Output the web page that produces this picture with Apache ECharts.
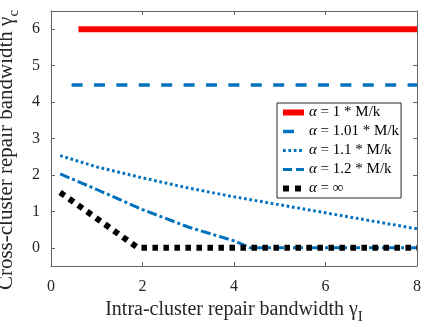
<!DOCTYPE html>
<html><head><meta charset="utf-8">
<script src="https://cdn.jsdelivr.net/npm/echarts@6/dist/echarts.min.js"></script>
<style>html,body{margin:0;padding:0;background:#fff}#c{width:429px;height:327px}</style>
</head><body><div id="c"></div>
<script>
const seriesNames = ['α = 1 * M/k', 'α = 1.01 * M/k', 'α = 1.1 * M/k', 'α = 1.2 * M/k', 'α = ∞'];
const xTickValues = [0, 2, 4, 6, 8];
const yTickValues = [0, 1, 2, 3, 4, 5, 6];
const xA1 = [0.6, 8];
const yA1 = [6, 6];
const xA101 = [0.45, 8];
const yA101 = [4.47, 4.47];
const xA11 = [0.2, 1, 2, 3, 4, 5, 6, 7, 8];
const yA11 = [2.53, 2.22, 1.92, 1.64, 1.40, 1.18, 0.96, 0.74, 0.52];
const xA12 = [0.2, 1, 2, 3, 4, 4.35, 5, 6, 7, 8];
const yA12 = [2.03, 1.6, 1.05, 0.57, 0.19, 0, 0, 0, 0, 0];
const xInf = [0.2, 1.9, 3, 4, 5, 6, 7, 8];
const yInf = [1.52, 0, 0, 0, 0, 0, 0, 0];

const pairs = (xs, ys) => xs.map((x, i) => [x, ys[i]]);
const FONT = 'Liberation Serif';
const AX = '#666';
const TXT = '#262626';

const styles = [
  {color: '#ff0000', width: 6, type: 'solid'},
  {color: '#0072bd', width: 3.5, type: [11, 11.4]},
  {color: '#0072bd', width: 3, type: [2.7, 2.7]},
  {color: '#0072bd', width: 3, type: [10, 3, 3, 3]},
  {color: '#000000', width: 6, type: [5.5, 5.5]}
];
const legendStyles = [
  {color: '#ff0000', width: 6, type: 'solid'},
  {color: '#0072bd', width: 3.5, type: [11, 11]},
  {color: '#0072bd', width: 3, type: [2.7, 2.7]},
  {color: '#0072bd', width: 3, type: [9, 4]},
  {color: '#000000', width: 6, type: [6, 6]}
];

const nameRich = (size, subSize, pad) => ({
  m: {fontFamily: FONT, fontSize: size, color: TXT, verticalAlign: 'top', lineHeight: size},
  s: {fontFamily: FONT, fontSize: subSize, color: TXT, verticalAlign: 'top', lineHeight: subSize, padding: [pad, 0, 0, 0]}
});

const chart = echarts.init(document.getElementById('c'), null, {renderer: 'canvas'});
const mk = (i, data) => ({
  name: seriesNames[i], type: 'line', data, symbol: 'none', showSymbol: false, silent: true,
  lineStyle: Object.assign({cap: 'butt'}, styles[i]), itemStyle: {color: styles[i].color},
  animation: false
});
chart.setOption({
  animation: false,
  backgroundColor: '#fff',
  grid: {left: 51, right: 12, top: 11, bottom: 61, outerBoundsMode: 'none'},
  xAxis: [{
    type: 'value', min: 0, max: 8, interval: 2,
    name: '{m|Intra-cluster repair bandwidth γ}{s|I}', nameLocation: 'middle', nameGap: 31,
    nameTextStyle: {fontFamily: FONT, fontSize: 20, color: TXT, rich: nameRich(20, 15, 10)},
    axisLine: {show: true, onZero: false, lineStyle: {color: AX, width: 1}},
    axisTick: {show: true, inside: true, length: 4, lineStyle: {color: AX}, customValues: xTickValues},
    axisLabel: {fontFamily: FONT, fontSize: 16, color: TXT, margin: 13, customValues: xTickValues},
    splitLine: {show: false}
  }, {
    type: 'value', min: 0, max: 8, interval: 2, position: 'top',
    axisLine: {show: true, onZero: false, lineStyle: {color: AX, width: 1}},
    axisTick: {show: true, inside: true, length: 4, lineStyle: {color: AX}, customValues: xTickValues},
    axisLabel: {show: false}, splitLine: {show: false}
  }],
  yAxis: [{
    type: 'value', min: -0.5, max: 6.5, interval: 1,
    axisLabel: {fontFamily: FONT, fontSize: 16, color: TXT, margin: 11, customValues: yTickValues},
    axisTick: {show: true, inside: true, length: 4, lineStyle: {color: AX}, customValues: yTickValues},
    axisLine: {show: true, onZero: false, lineStyle: {color: AX, width: 1}},
    splitLine: {show: false},
    name: '{m|Cross-cluster repair bandwidth γ}{s|c}', nameLocation: 'middle', nameGap: 21,
    nameTextStyle: {fontFamily: FONT, fontSize: 21, color: TXT, padding: [0, 23, 0, 0], rich: nameRich(21, 15, 10)}
  }, {
    type: 'value', min: -0.5, max: 6.5, interval: 1, position: 'right',
    axisLabel: {show: false},
    axisTick: {show: true, inside: true, length: 4, lineStyle: {color: AX}, customValues: yTickValues},
    axisLine: {show: true, onZero: false, lineStyle: {color: AX, width: 1}},
    splitLine: {show: false}
  }],
  legend: {
    orient: 'vertical', left: 277, top: 103,
    backgroundColor: '#fff', borderColor: '#262626', borderWidth: 1,
    padding: [2, 2, 2, 3], itemGap: 4, itemWidth: 21, itemHeight: 14,
    data: seriesNames.map((n, i) => ({name: n, lineStyle: Object.assign({cap: 'butt'}, legendStyles[i])})),
    itemStyle: {opacity: 0},
    formatter: n => '{a|α}' + n.slice(1),
    textStyle: {fontFamily: FONT, fontSize: 15, color: '#000',
      rich: {a: {fontFamily: FONT, fontSize: 15, fontStyle: 'italic', color: '#000'}}},
    selectedMode: false
  },
  series: [
    mk(0, pairs(xA1, yA1)),
    mk(1, pairs(xA101, yA101)),
    mk(2, pairs(xA11, yA11)),
    mk(3, pairs(xA12, yA12)),
    mk(4, pairs(xInf, yInf))
  ]
});
</script></body></html>
